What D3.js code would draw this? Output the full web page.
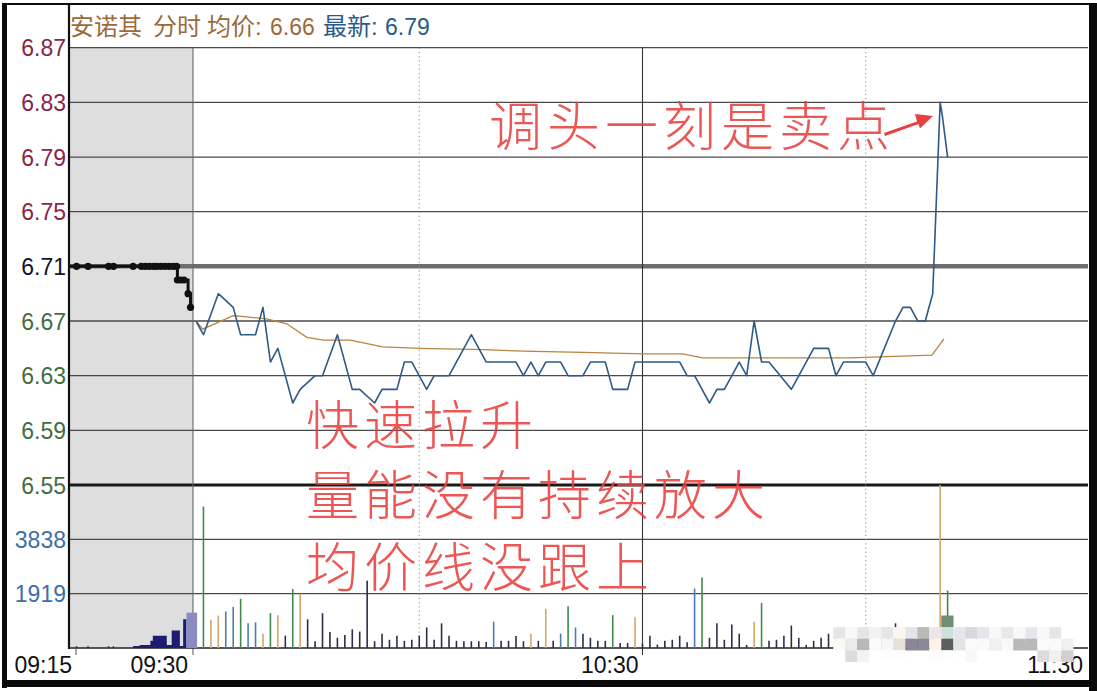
<!DOCTYPE html>
<html><head><meta charset="utf-8">
<script src="https://cdn.jsdelivr.net/npm/d3@7"></script>
<style>html,body{margin:0;padding:0;background:#fff;}svg{display:block;}</style>
</head><body><svg id="c" width="1097" height="691"></svg>
<script>
// ---------------- data ----------------
const stockName = "安诺其";
const modeName = "分时";
const avgLabel = "均价:";
const lastLabel = "最新:";
const headerAvg = "6.66";
const headerLast = "6.79";
const prevClose = 6.71;
const priceTicks = [6.87, 6.83, 6.79, 6.75, 6.71, 6.67, 6.63, 6.59, 6.55];
const volTicks = [1919, 3838];
const timeLabels = ["09:15", "09:30", "10:30", "11:30"];

// pre-market (minutes after 09:15)
const preT = [0,0.8,2.2,4.7,5.3,7.7,8.7,9.2,9.7,10.2,10.6,11.1,11.6,12.1,12.6,13.0,13.1,13.5,13.9,14.4,14.7];
const preP = [6.71,6.71,6.71,6.71,6.71,6.71,6.71,6.71,6.71,6.71,6.71,6.71,6.71,6.71,6.71,6.71,6.70,6.70,6.70,6.69,6.68];
const preTradeT = [0.8, 2.2, 4.7, 5.3];
const preTradeV = [60, 60, 60, 60];
const preVolT = [7.7, 8.5, 9.8, 10.1, 11.8, 12.4, 13.4, 13.8, 14.2];
const preVolV = [70, 110, 255, 435, 110, 615, 70, 1015];
const auctionT = [14.2, 15.5];
const auctionV = 1250;

// main session (minutes after 09:30)
const mainT = [0,1,3,5,6,8,9,10,11,13,14,16,17,19,21,22,24,25,27,28,29,31,32,34,37,39,43,44,45,46,47,49,50,52,53,55,56,58,59,65,66,67,69,70,71,73,74,75,76,77,80,82,83,85,86,87,90,91,94,95,96,97,98,99,100,100.3,101];
const mainP = [6.67,6.66,6.69,6.68,6.66,6.66,6.68,6.64,6.65,6.61,6.62,6.63,6.63,6.66,6.62,6.62,6.61,6.62,6.62,6.64,6.64,6.62,6.63,6.63,6.66,6.64,6.64,6.63,6.64,6.63,6.64,6.64,6.63,6.63,6.64,6.64,6.62,6.62,6.64,6.64,6.63,6.63,6.61,6.62,6.62,6.64,6.63,6.67,6.64,6.64,6.62,6.64,6.65,6.65,6.63,6.64,6.64,6.63,6.67,6.68,6.68,6.67,6.67,6.69,6.83,6.82,6.79];
const avgT = [0,0.9,5,6.8,9.5,12.2,14.9,17.1,20.7,25.1,30.1,38.6,43.9,52,60.1,65.4,68.1,74.4,87.8,98.9,100.5];
const avgP = [6.67,6.664,6.674,6.673,6.6715,6.668,6.658,6.656,6.656,6.651,6.650,6.649,6.648,6.647,6.646,6.646,6.643,6.643,6.643,6.645,6.657];

// per-minute volume, minutes 1..101
const volV = [4995,1000,1145,1290,1450,1740,870,905,505,1230,
  1160,435,2085,1920,1015,240,1230,565,360,455,
  660,580,2375,240,505,290,435,255,290,435,
  725,290,870,435,255,240,240,240,215,930,
  255,255,425,240,505,255,1385,255,505,1475,
  725,505,360,255,255,1160,180,180,1085,150,
  435,120,255,290,435,205,2100,2490,360,870,
  290,830,505,110,930,1590,255,290,435,795,
  360,110,255,360,505,360,255,435,290,505,
  255,360,725,870,435,505,290,360,600,5757,2030];
const volKind = ["g","o","o","b","b","g","b","b","o","g",
  "o","n","g","o","n","n","n","n","n","n",
  "n","n","n","n","n","n","n","n","n","n",
  "n","n","n","n","n","n","n","n","n","b",
  "n","n","n","n","o","n","o","n","b","g",
  "b","n","n","n","n","g","n","n","o","n",
  "n","n","n","n","n","n","b","g","n","n",
  "n","n","n","n","o","g","n","n","n","n",
  "n","n","n","n","n","n","n","n","n","n",
  "n","n","n","n","n","n","n","n","n","o","g"];

const noteLines = ["调头一刻是卖点", "快速拉升", "量能没有持续放大", "均价线没跟上"];

// pixelated watermark patch (decoration)
const mosaicRows = [
  [null,null,null,null,null,null,null,null,null,"#6e8e74",null,null,null,null,null,null,null,null,null,null],
  ["#e6e6e6","#f8f8f8","#e3e5e8","#f2f2f2","#e6e6ea","#fbf7ef","#e4e4ea","#b8bab8","#ece6e6","#cfe0da","#e6e6ea","#d8d8da","#e6e6ea","#f8f8f8","#e8e8ec","#f8f8f8","#e6e6ea","#f8f8f8","#e6e6ea","#ffffff"],
  ["#fafaf5","#ececec","#b8b8ba","#fafafa","#f7f7f7","#e6e2da","#8a8898","#8a8898","#fdf3e6","#5a6060","#e4e4e4","#fafafa","#fafafa","#f0f0f0","#f8f8f8","#b8b8b8","#b8b8b8","#fafafa","#fafafa","#f0f0f0"],
  ["#ffffff","#dcdcdc","#f4f4f4","#ffffff","#fdfdfd","#fdfdfd","#ffffff","#ffffff","#fcfcfc","#fdfdfd","#ffffff","#f8f8f8","#ffffff","#ffffff","#ffffff","#ffffff","#ffffff","#dcdcdc","#f0f0f0","#d0d0d0"]
];

// ---------------- layout ----------------
const L = 70, R = 1088, TOP = 47.7, BASE = 648;
const svg = d3.select("#c");
const xPre = d3.scaleLinear().domain([0, 15]).range([L, 193]);
const xMain = d3.scaleLinear().domain([0, 120]).range([196, 1089]);
const yP = d3.scaleLinear().domain([6.55, 6.87]).range([485, TOP]);
const yV = d3.scaleLinear().domain([0, 5757]).range([BASE, 485]);
const NUM = "'Liberation Sans', Arial, sans-serif";
const CJK = "'Liberation Sans', 'Noto Sans CJK SC', sans-serif";

svg.append("rect").attr("width", 1097).attr("height", 691).attr("fill", "#fff");

// pre-market shaded zone
svg.append("rect").attr("x", L).attr("y", TOP).attr("width", xPre(15) - L).attr("height", BASE - TOP).attr("fill", "#dedede");

// horizontal grid
const g = svg.append("g");
priceTicks.forEach(p => {
  let sw = 1.3, col = "#4a4a4a";
  if (p === prevClose) { sw = 4.5; col = "#6e6e6e"; }
  if (p === 6.55) { sw = 3; col = "#1a1a1a"; }
  g.append("line").attr("x1", L).attr("x2", R).attr("y1", yP(p)).attr("y2", yP(p))
    .attr("stroke", col).attr("stroke-width", sw);
});
volTicks.forEach(v => {
  g.append("line").attr("x1", L).attr("x2", R).attr("y1", yV(v)).attr("y2", yV(v))
    .attr("stroke", "#4a4a4a").attr("stroke-width", 1.3);
});
// vertical grid
g.append("line").attr("x1", xPre(15)).attr("x2", xPre(15)).attr("y1", TOP).attr("y2", 655).attr("stroke", "#666").attr("stroke-width", 1.1);
g.append("line").attr("x1", xMain(60)).attr("x2", xMain(60)).attr("y1", TOP).attr("y2", 655).attr("stroke", "#333").attr("stroke-width", 1.1);
[30, 90].forEach(t => {
  g.append("line").attr("x1", xMain(t)).attr("x2", xMain(t)).attr("y1", TOP).attr("y2", BASE)
    .attr("stroke", "#8a8a8a").attr("stroke-width", 1).attr("stroke-dasharray", "1.2,3");
});
// axes
g.append("line").attr("x1", L - 1).attr("x2", L - 1).attr("y1", 5).attr("y2", BASE + 1).attr("stroke", "#111").attr("stroke-width", 2.2);
g.append("line").attr("x1", L).attr("x2", R).attr("y1", BASE).attr("y2", BASE).attr("stroke", "#222").attr("stroke-width", 1.6);
g.append("line").attr("x1", L + 6).attr("x2", L + 6).attr("y1", BASE).attr("y2", 655).attr("stroke", "#555").attr("stroke-width", 1);

// ---------------- volume ----------------
const volColor = { g: "#3f8a4c", o: "#d4a566", b: "#4c7cb4", n: "#2c2c4c" };
svg.append("g").selectAll("line").data(volV).join("line")
  .attr("x1", (d, i) => xMain(i + 1)).attr("x2", (d, i) => xMain(i + 1))
  .attr("y1", BASE).attr("y2", d => yV(d))
  .attr("stroke", (d, i) => volColor[volKind[i]]).attr("stroke-width", 1.6);

// pre-market volume
const preVolData = preVolT.map((t, i) => ({ t, v: i < preVolV.length ? preVolV[i] : preVolV[preVolV.length - 1] }));
svg.append("path").datum(preVolData)
  .attr("d", d3.area().curve(d3.curveStepAfter).x(d => xPre(d.t)).y0(BASE).y1(d => yV(d.v)))
  .attr("fill", "#1c1c72");
svg.append("rect").attr("x", xPre(auctionT[0])).attr("width", xPre(auctionT[1]) - xPre(auctionT[0]))
  .attr("y", yV(auctionV)).attr("height", BASE - yV(auctionV)).attr("fill", "#8c8cc4");
svg.append("g").selectAll("line").data(preTradeT).join("line")
  .attr("x1", d => xPre(d)).attr("x2", d => xPre(d)).attr("y1", BASE)
  .attr("y2", (d, i) => yV(preTradeV[i])).attr("stroke", "#222").attr("stroke-width", 1.5);

// ---------------- price ----------------
const avgLine = d3.line().x(d => xMain(d[0])).y(d => yP(d[1]));
svg.append("path").datum(avgT.map((t, i) => [t, avgP[i]])).attr("d", avgLine)
  .attr("fill", "none").attr("stroke", "#b8843e").attr("stroke-width", 1.3);
svg.append("path").datum(mainT.map((t, i) => [t, mainP[i]])).attr("d", avgLine)
  .attr("fill", "none").attr("stroke", "#2d5a86").attr("stroke-width", 1.6).attr("stroke-linejoin", "round");

const preData = preT.map((t, i) => [t, preP[i]]);
svg.append("path").datum(preData)
  .attr("d", d3.line().curve(d3.curveStepAfter).x(d => xPre(d[0])).y(d => yP(d[1])))
  .attr("fill", "none").attr("stroke", "#111").attr("stroke-width", 3);
svg.append("g").selectAll("circle").data(preData.slice(1)).join("circle")
  .attr("cx", d => xPre(d[0])).attr("cy", d => yP(d[1])).attr("r", 3.6).attr("fill", "#111");

// ---------------- annotations ----------------
const red = "#e8403e";
const notes = svg.append("g").attr("font-family", "'Noto Sans CJK SC', sans-serif").attr("font-weight", 300)
  .attr("font-size", 53).attr("fill", red).attr("letter-spacing", "5px").attr("opacity", 0.88);
notes.append("text").attr("x", 489).attr("y", 146).text(noteLines[0]);
notes.append("text").attr("x", 306).attr("y", 445).text(noteLines[1]);
notes.append("text").attr("x", 306).attr("y", 515).text(noteLines[2]);
notes.append("text").attr("x", 306).attr("y", 587).text(noteLines[3]);
svg.append("path").attr("d", "M884,133 L917,121.5 L915,114 L933,116 L920,128.5 L918.5,124 L885,136 Z").attr("fill", red);

// ---------------- labels ----------------
const hdr = svg.append("g").attr("font-family", CJK).attr("font-size", 24);
hdr.append("text").attr("x", 70).attr("y", 35).attr("fill", "#9c6a3a").text(stockName);
hdr.append("text").attr("x", 153).attr("y", 35).attr("fill", "#9c6a3a").text(modeName);
hdr.append("text").attr("x", 207).attr("y", 35).attr("fill", "#9c6a3a").text(avgLabel);
hdr.append("text").attr("x", 270).attr("y", 35).attr("fill", "#9c6a3a").attr("font-size", 23).text(headerAvg);
hdr.append("text").attr("x", 323).attr("y", 35).attr("fill", "#2a5a8a").text(lastLabel);
hdr.append("text").attr("x", 385).attr("y", 35).attr("fill", "#2a5a8a").attr("font-size", 23).text(headerLast);

const yl = svg.append("g").attr("font-family", NUM).attr("font-size", 23).attr("text-anchor", "end");
priceTicks.forEach(p => {
  const col = p > prevClose + 1e-9 ? "#8a2548" : (Math.abs(p - prevClose) < 1e-9 ? "#14142a" : "#3f6e3f");
  yl.append("text").attr("x", 66).attr("y", yP(p) + 8.5).attr("fill", col).text(p.toFixed(2));
});
volTicks.forEach(v => {
  yl.append("text").attr("x", 66).attr("y", yV(v) + 8.5).attr("fill", "#3d6fa6").text(v);
});

const xl = svg.append("g").attr("font-family", NUM).attr("font-size", 23).attr("fill", "#111").attr("text-anchor", "end");
const labelX = [xPre(0) + 2, xPre(15) - 5, xMain(60) - 4, xMain(120) - 6];
timeLabels.forEach((s, i) => xl.append("text").attr("x", labelX[i]).attr("y", 673).text(s));

// ---------------- mosaic (on top) ----------------
const mos = svg.append("g");
mosaicRows.forEach((row, r) => {
  row.forEach((c, i) => {
    if (!c) return;
    if (r === 3 && c === "#ffffff") return;
    mos.append("rect").attr("x", 833.3 + i * 12).attr("y", 615.5 + r * 11.6)
      .attr("width", 12.2).attr("height", 11.8).attr("fill", c);
  });
});

// ---------------- frame ----------------
const fr = svg.append("g").attr("fill", "#0a0a0a");
fr.append("rect").attr("x", 2).attr("y", 3).attr("width", 1095).attr("height", 2);
fr.append("rect").attr("x", 2).attr("y", 3).attr("width", 5).attr("height", 685);
fr.append("rect").attr("x", 1089).attr("y", 3).attr("width", 8).attr("height", 688);
fr.append("rect").attr("x", 2).attr("y", 680).attr("width", 1095).attr("height", 7);
</script></body></html>
